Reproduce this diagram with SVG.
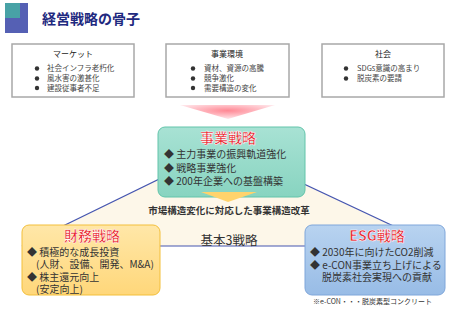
<svg xmlns="http://www.w3.org/2000/svg" width="450" height="312" viewBox="0 0 450 312">
<defs>
<style>
text{font-family:"Noto Sans CJK JP","Noto Sans",sans-serif;fill:#333;}
.hd{font-size:8px;text-anchor:middle;fill:#222;}
.sm{font-size:7.5px;fill:#444;}
.bx{fill:#fff;stroke:#a8a8a8;stroke-width:1.5;}
.md{font-size:10px;fill:#333;}
.rt{font-size:14px;font-weight:bold;text-anchor:middle;fill:#e8202a;stroke:#fff;stroke-width:0.5;}
</style>
<radialGradient id="pk" cx="0.5" cy="0.4" r="0.6">
<stop offset="0" stop-color="#ff8894"/>
<stop offset="1" stop-color="#ffe6ea"/>
</radialGradient>
<linearGradient id="tl" x1="0" y1="0" x2="0" y2="1">
<stop offset="0" stop-color="#a8e2d4"/>
<stop offset="1" stop-color="#88d4c0"/>
</linearGradient>
<linearGradient id="yl" x1="0" y1="0" x2="0" y2="1">
<stop offset="0" stop-color="#ffe7a8"/>
<stop offset="1" stop-color="#ffd77a"/>
</linearGradient>
<linearGradient id="bl" x1="0" y1="0" x2="0" y2="1">
<stop offset="0" stop-color="#b8d3f0"/>
<stop offset="1" stop-color="#98bce6"/>
</linearGradient>
</defs>

<g id="title">
<rect x="5" y="3" width="23" height="30" fill="#5560b4"/>
<rect x="5" y="3" width="15" height="15" fill="#48a2a6"/>
<text x="42" y="24" style="font-size:14px;font-weight:bold;fill:#1f2a80">経営戦略の骨子</text>
</g>

<g id="market">
<rect class="bx" x="12" y="44" width="122" height="53"/>
<text class="hd" x="73" y="57">マーケット</text>
<circle cx="37" cy="68.5" r="2.2" fill="#333"/><text class="sm" x="47" y="71">社会インフラ老朽化</text>
<circle cx="37" cy="78.5" r="2.2" fill="#333"/><text class="sm" x="47" y="81">風水害の激甚化</text>
<circle cx="37" cy="88" r="2.2" fill="#333"/><text class="sm" x="47" y="90.5">建設従事者不足</text>
</g>

<g id="business-env">
<rect class="bx" x="166" y="44" width="123" height="53"/>
<text class="hd" x="227" y="57">事業環境</text>
<circle cx="193" cy="68.5" r="2.2" fill="#333"/><text class="sm" x="204" y="71">資材、資源の高騰</text>
<circle cx="193" cy="78.5" r="2.2" fill="#333"/><text class="sm" x="204" y="81">競争激化</text>
<circle cx="193" cy="88" r="2.2" fill="#333"/><text class="sm" x="204" y="90.5">需要構造の変化</text>
</g>

<g id="society">
<rect class="bx" x="322" y="44" width="122" height="53"/>
<text class="hd" x="383" y="57">社会</text>
<circle cx="346" cy="68.5" r="2.2" fill="#333"/><text class="sm" x="357" y="71">SDGs意識の高まり</text>
<circle cx="346" cy="78.5" r="2.2" fill="#333"/><text class="sm" x="357" y="81">脱炭素の要請</text>
</g>

<g id="connectors">
<polygon points="180,105 275,105 228,119" fill="url(#pk)"/>
<polygon points="22,246 225,147 436,246" fill="#fdf7e9" stroke="#4656b0" stroke-width="1.2"/>
</g>

<g id="core">
<rect x="158" y="127" width="147" height="70" rx="7" fill="url(#tl)" stroke="#62c4aa" stroke-width="1"/>
<text class="rt" x="228" y="142.5">事業戦略</text>
<text class="md" x="164" y="158">◆ 主力事業の振興軌道強化</text>
<text class="md" x="164" y="172">◆ 戦略事業強化</text>
<text class="md" x="164" y="185">◆ 200年企業への基盤構築</text>
<polygon points="201,192 257,192 228,202" fill="#ffd36c"/>
<text x="229" y="214" style="font-size:9.5px;font-weight:bold;text-anchor:middle;fill:#333">市場構造変化に対応した事業構造改革</text>
<text x="229" y="245" style="font-size:12.5px;text-anchor:middle;fill:#333">基本3戦略</text>
</g>

<g id="finance">
<rect x="22" y="225" width="138" height="70" rx="7" fill="url(#yl)" stroke="#f3bf3a" stroke-width="1"/>
<text class="rt" x="92" y="240.5">財務戦略</text>
<text class="md" x="27" y="256">◆ 積極的な成長投資</text>
<text class="md" x="36" y="268">(人財、設備、開発、M&amp;A)</text>
<text class="md" x="27" y="281">◆ 株主還元向上</text>
<text class="md" x="36" y="293">(安定向上)</text>
</g>

<g id="esg">
<rect x="305" y="225" width="140" height="70" rx="7" fill="url(#bl)" stroke="#7fa6da" stroke-width="1"/>
<text class="rt" x="377" y="240.5">ESG戦略</text>
<text class="md" x="310" y="256">◆ 2030年に向けたCO2削減</text>
<text class="md" x="310" y="269">◆ e-CON事業立ち上げによる</text>
<text class="md" x="322" y="281">脱炭素社会実現への貢献</text>
<text x="313" y="304" style="font-size:7px;fill:#333">※e-CON・・・脱炭素型コンクリート</text>
</g>
</svg>
